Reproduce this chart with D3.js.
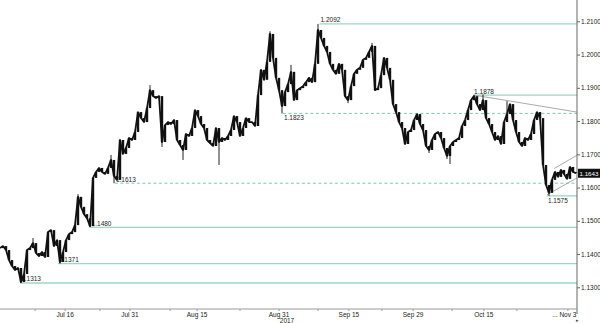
<!DOCTYPE html>
<html>
<head>
<meta charset="utf-8">
<script src="https://cdn.jsdelivr.net/npm/d3@7/dist/d3.min.js"></script>
<style>
  body { margin: 0; background: #fff; }
  text { font-family: "Liberation Sans", Arial, sans-serif; }
</style>
</head>
<body>
<div id="chart"></div>
<script>
// EUR/USD closes, one value per half session (index = bar number)
var closes = [
  1.1418, 1.1424, 1.1412, 1.1382, 1.1364, 1.1352, 1.1358, 1.1316, 1.1340, 1.1412,
  1.1418, 1.1433, 1.1403, 1.1394, 1.1406, 1.1391, 1.1466, 1.1472, 1.1424, 1.1442,
  1.1376, 1.1406, 1.1442, 1.1460, 1.1466, 1.1487, 1.1572, 1.1542, 1.1520, 1.1508,
  1.1484, 1.1629, 1.1647, 1.1659, 1.1647, 1.1641, 1.1659, 1.1683, 1.1635, 1.1623,
  1.1743, 1.1701, 1.1719, 1.1749, 1.1743, 1.1767, 1.1827, 1.1809, 1.1797, 1.1839,
  1.1893, 1.1875, 1.1869, 1.1875, 1.1737, 1.1788, 1.1797, 1.1791, 1.1803, 1.1743,
  1.1728, 1.1713, 1.1761, 1.1755, 1.1779, 1.1833, 1.1815, 1.1791, 1.1779, 1.1743,
  1.1734, 1.1725, 1.1779, 1.1737, 1.1749, 1.1743, 1.1755, 1.1773, 1.1815, 1.1797,
  1.1755, 1.1779, 1.1809, 1.1797, 1.1797, 1.1785, 1.1878, 1.1954, 1.1924, 1.1978,
  1.2062, 1.1990, 1.1930, 1.1893, 1.1845, 1.1887, 1.1911, 1.1948, 1.1863, 1.1893,
  1.1899, 1.1905, 1.1917, 1.1930, 1.1917, 1.1972, 1.2074, 1.2050, 1.2026, 1.2008,
  1.1972, 1.1954, 1.1942, 1.1972, 1.1954, 1.1875, 1.1863, 1.1905, 1.1942, 1.1954,
  1.1960, 1.1984, 1.1990, 1.2008, 1.2026, 1.1893, 1.1899, 1.1938, 1.1990, 1.1960,
  1.1924, 1.1851, 1.1827, 1.1797, 1.1779, 1.1731, 1.1767, 1.1773, 1.1803, 1.1821,
  1.1791, 1.1773, 1.1725, 1.1713, 1.1743, 1.1761, 1.1767, 1.1749, 1.1719, 1.1695,
  1.1725, 1.1737, 1.1743, 1.1749, 1.1785, 1.1803, 1.1833, 1.1863, 1.1875, 1.1851,
  1.1833, 1.1863, 1.1809, 1.1791, 1.1767, 1.1743, 1.1755, 1.1731, 1.1797, 1.1821,
  1.1851, 1.1803, 1.1767, 1.1737, 1.1725, 1.1749, 1.1743, 1.1761, 1.1803, 1.1827,
  1.1809, 1.1668, 1.1608, 1.1584, 1.1623, 1.1647, 1.1632, 1.1653, 1.1641, 1.1626,
  1.1662, 1.1647, 1.1643
];

// single-bar spikes (bar index, extreme price)
var wickIdx = [7, 11, 20, 26, 30, 37, 38, 50, 54, 61, 73, 90, 94, 97, 106, 116, 124, 143, 149, 150, 158, 161, 169, 183];
var wickPrice = [1.1313, 1.1448, 1.1371, 1.1580, 1.1480, 1.1698, 1.1613, 1.1908, 1.1722, 1.1683, 1.1668, 1.2070,
  1.1823, 1.1969, 1.2092, 1.1854, 1.2035, 1.1704, 1.1686, 1.1671, 1.1878, 1.1880, 1.1860, 1.1575];

// support / resistance levels
var levelPrices = [1.2092, 1.1878, 1.1823, 1.1613, 1.1575, 1.1480, 1.1371, 1.1313];
var levelStart = [106.5, 157.7, 94.3, 38.3, 182.3, 30.2, 19.3, 6.7];
var dashedLevels = [1.1823, 1.1613];
var labelBelow = [1.1823, 1.1575];

// trend lines: [startIdx, startPrice, endIdx, endPrice]
var trendLines = [
  [158, 1.1878, 192.3, 1.1827],
  [184.7, 1.1657, 192.3, 1.1697],
  [182.3, 1.1578, 192.3, 1.1629]
];

var lastPrice = 1.1643;

var priceTicks = [1.13, 1.14, 1.15, 1.16, 1.17, 1.18, 1.19, 1.20, 1.21];
var dateLabels = ["Jul 16", "Jul 31", "Aug 15", "Aug 31", "Sep 15", "Sep 29", "Oct 15", "Nov 3"];
var dateIdx = [21.7, 43.3, 65.7, 93, 116.3, 137.7, 161.3, 189.3];
var minorIdx = [11.7, 33.3, 56.7, 80, 106, 127.3, 150.7, 172.3];

var svgWidth = 600;
var svgHeight = 323;
var axisX = 577;
var axisY = 309;

var svg = d3.select("#chart")
  .append("svg")
  .attr("width", svgWidth)
  .attr("height", svgHeight);

var x = d3.scaleLinear()
  .domain([0, 192])
  .range([0, 576]);

var y = d3.scaleLinear()
  .domain([1.13, 1.21])
  .range([287.3, 21.3]);

// level lines
levelPrices.forEach(function(p, i) {
  var dashed = dashedLevels.indexOf(p) >= 0;
  svg.append("line")
    .attr("x1", x(levelStart[i]))
    .attr("x2", axisX)
    .attr("y1", y(p))
    .attr("y2", y(p))
    .attr("stroke", dashed ? "#7fc6b4" : "#9fd4c6")
    .attr("stroke-width", dashed ? 1 : 1.3)
    .attr("stroke-dasharray", dashed ? "3,2.5" : null);

  var below = labelBelow.indexOf(p) >= 0;
  svg.append("text")
    .attr("x", x(levelStart[i]) + 1)
    .attr("y", below ? y(p) + 7 : y(p) - 1.5)
    .attr("font-size", "6.5px")
    .attr("fill", "#222")
    .text(d3.format(".4f")(p));
});

// trend lines
trendLines.forEach(function(t) {
  svg.append("line")
    .attr("x1", x(t[0]))
    .attr("y1", y(t[1]))
    .attr("x2", x(t[2]))
    .attr("y2", y(t[3]))
    .attr("stroke", "#a0a0a0")
    .attr("stroke-width", 0.9);
});

// wicks
wickIdx.forEach(function(idx, i) {
  svg.append("line")
    .attr("x1", x(idx))
    .attr("x2", x(idx))
    .attr("y1", y(closes[idx]))
    .attr("y2", y(wickPrice[i]))
    .attr("stroke", "#222")
    .attr("stroke-width", 1);
});

// candle bodies: open = previous close
svg.append("g")
  .selectAll("rect")
  .data(closes.slice(1))
  .enter()
  .append("rect")
  .attr("x", (d, i) => x(i + 1) - 1.2)
  .attr("width", 2.4)
  .attr("y", (d, i) => Math.min(y(d), y(closes[i])))
  .attr("height", (d, i) => Math.max(1, Math.abs(y(d) - y(closes[i]))))
  .attr("fill", "#111");

// price path
var line = d3.line()
  .x(function(d, i) { return x(i); })
  .y(function(d) { return y(d); });

svg.append("path")
  .datum(closes)
  .attr("d", line)
  .attr("fill", "none")
  .attr("stroke", "#111")
  .attr("stroke-width", 1.8)
  .attr("stroke-linejoin", "round");

// right axis
var rightAxis = d3.axisRight(y)
  .tickValues(priceTicks)
  .tickSize(3)
  .tickFormat(d3.format(".4f"));

var yAxis = svg.append("g")
  .attr("transform", `translate(${axisX}, 0)`)
  .call(rightAxis);

yAxis.select(".domain").remove();
yAxis.append("line")
  .attr("x1", 0).attr("x2", 0)
  .attr("y1", 0).attr("y2", 314)
  .attr("stroke", "#666");
yAxis.selectAll(".tick line").attr("stroke", "#666");
yAxis.selectAll(".tick text")
  .attr("x", 4)
  .attr("font-size", "6.5px")
  .attr("font-family", "Liberation Sans, Arial, sans-serif")
  .attr("fill", "#222");

// last price tag
svg.append("rect")
  .attr("x", axisX + 1)
  .attr("y", y(lastPrice) - 4.5)
  .attr("width", svgWidth - axisX - 1)
  .attr("height", 9)
  .attr("fill", "#111");
svg.append("text")
  .attr("x", axisX + 2.5)
  .attr("y", y(lastPrice) + 2.3)
  .attr("font-size", "6.2px")
  .attr("fill", "#fff")
  .text(d3.format(".4f")(lastPrice));

// bottom axis
svg.append("line")
  .attr("x1", 0).attr("x2", axisX)
  .attr("y1", axisY).attr("y2", axisY)
  .attr("stroke", "#999");

svg.selectAll(".minor")
  .data(minorIdx.concat(dateIdx))
  .enter()
  .append("line")
  .attr("x1", d => x(d))
  .attr("x2", d => x(d))
  .attr("y1", axisY)
  .attr("y2", axisY + 2)
  .attr("stroke", "#999");

svg.selectAll(".dlabel")
  .data(dateLabels)
  .enter()
  .append("text")
  .attr("x", (d, i) => x(dateIdx[i]))
  .attr("y", axisY + 7.5)
  .attr("text-anchor", "middle")
  .attr("font-size", "6.5px")
  .attr("fill", "#222")
  .text(d => d);

svg.append("text")
  .attr("x", x(dateIdx[3]) + 8)
  .attr("y", axisY + 14)
  .attr("text-anchor", "middle")
  .attr("font-size", "6.5px")
  .attr("fill", "#222")
  .text("2017");

svg.append("text")
  .attr("x", x(dateIdx[7]) - 13)
  .attr("y", axisY + 7.5)
  .attr("text-anchor", "middle")
  .attr("font-size", "6.5px")
  .attr("fill", "#222")
  .text("...");

svg.append("text")
  .attr("x", axisX - 1)
  .attr("y", axisY + 13)
  .attr("font-size", "5px")
  .attr("fill", "#444")
  .text("\u25B8");
</script>
</body>
</html>
